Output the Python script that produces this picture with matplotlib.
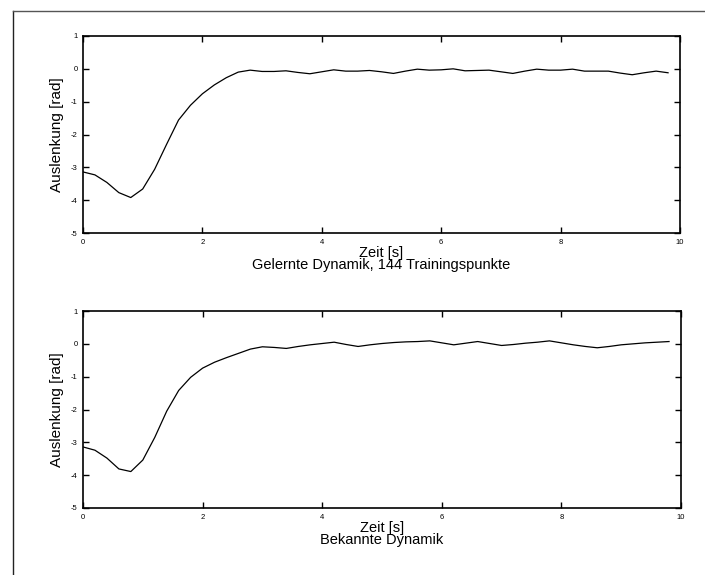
import matplotlib.pyplot as plt
import numpy as np
from matplotlib.lines import Line2D

plt.rcParams['font.family'] = ['Liberation Sans', 'DejaVu Sans']
plt.rcParams['axes.unicode_minus'] = False

# zeit in s, schrittweite 0.2
t = np.arange(50) * 0.2

gelernt = [-3.14, -3.23, -3.46, -3.77, -3.92, -3.66, -3.06, -2.30, -1.56, -1.11,
           -0.76, -0.49, -0.27, -0.10, -0.04, -0.08, -0.08, -0.06, -0.11, -0.15,
           -0.09, -0.03, -0.07, -0.07, -0.05, -0.09, -0.14, -0.07, -0.01, -0.04,
           -0.03, 0.00, -0.06, -0.05, -0.04, -0.09, -0.14, -0.07, -0.01, -0.04,
           -0.04, -0.01, -0.07, -0.07, -0.07, -0.13, -0.18, -0.12, -0.07, -0.12]

bekannt = [-3.14, -3.24, -3.48, -3.81, -3.89, -3.54, -2.85, -2.05, -1.42, -1.02,
           -0.74, -0.56, -0.42, -0.29, -0.16, -0.09, -0.11, -0.14, -0.08, -0.03,
           0.01, 0.05, -0.02, -0.08, -0.03, 0.01, 0.04, 0.06, 0.07, 0.09,
           0.03, -0.03, 0.02, 0.07, 0.01, -0.05, -0.02, 0.02, 0.05, 0.09,
           0.03, -0.03, -0.08, -0.12, -0.08, -0.03, 0.00, 0.03, 0.05, 0.07]

titles = ['Gelernte Dynamik, 144 Trainingspunkte', 'Bekannte Dynamik']
xticks = [0, 2, 4, 6, 8, 10]
yticks = [1, 0, -1, -2, -3, -4, -5]

W, H = 705, 575
fig = plt.figure(figsize=(W / 100, H / 100), dpi=100)

# rahmen (links und oben sichtbar)
fig.add_artist(Line2D([12.5 / W, 12.5 / W], [0, 1 - 11 / H], transform=fig.transFigure,
                      color='#222222', lw=1.0))
fig.add_artist(Line2D([12.5 / W, 1], [1 - 11 / H, 1 - 11 / H], transform=fig.transFigure,
                      color='#555555', lw=1.0))

boxes = [(83, 36, 680, 233), (83, 311, 681, 508)]
for (x0, y0, x1, y1), y, title in zip(boxes, [gelernt, bekannt], titles):
    ax = fig.add_axes([x0 / W, 1 - y1 / H, (x1 - x0) / W, (y1 - y0) / H])
    ax.plot(t, y, color='black', lw=0.9)
    ax.set_xlim(0, 10)
    ax.set_ylim(-5, 1)
    ax.set_xticks(xticks)
    ax.set_yticks(yticks)
    ax.tick_params(direction='in', length=4.5, width=1.0, labelsize=5.5, pad=4,
                   top=True, right=True)
    for s in ax.spines.values():
        s.set_linewidth(1.2)
    ax.set_ylabel('Auslenkung [rad]', fontsize=11, labelpad=5)
    # x-beschriftung und titel als ein block, eng gesetzt
    ax.text(0.5, -0.13, 'Zeit [s]\n' + title, transform=ax.transAxes, ha='center',
            va='center', fontsize=10.5, linespacing=0.8)

fig.savefig('out.png', dpi=100)
